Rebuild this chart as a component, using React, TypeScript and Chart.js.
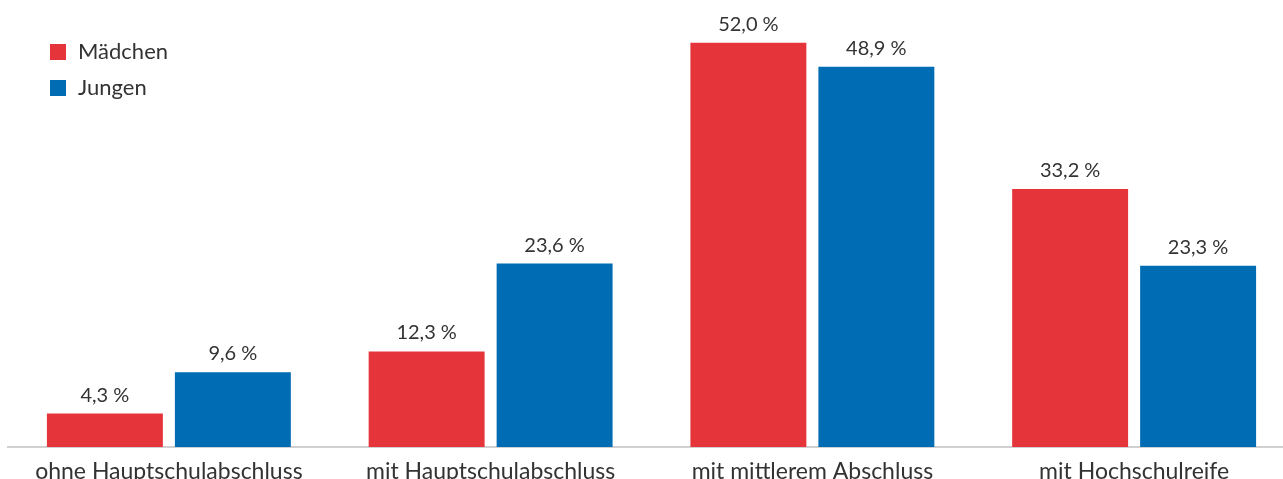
import React, { useEffect, useRef } from "react";
import { Chart, registerables } from "chart.js";

Chart.register(...registerables);

const categories = [
  "ohne Hauptschulabschluss",
  "mit Hauptschulabschluss",
  "mit mittlerem Abschluss",
  "mit Hochschulreife",
];
const seriesNames = ["Mädchen", "Jungen"];
const maedchen = [4.3, 12.3, 52.0, 33.2];
const jungen = [9.6, 23.6, 48.9, 23.3];
const seriesColors = ["#E6353A", "#006CB4"];

const FONT = "Lato";
const TEXT_COLOR = "#333333";

const valueLabels = {
  id: "valueLabels",
  afterDatasetsDraw(chart: any) {
    const ctx = chart.ctx;
    ctx.save();
    ctx.font = `20px ${FONT}`;
    ctx.fillStyle = TEXT_COLOR;
    ctx.textAlign = "center";
    ctx.textBaseline = "alphabetic";
    chart.data.datasets.forEach((ds: any, i: number) => {
      const meta = chart.getDatasetMeta(i);
      meta.data.forEach((el: any, j: number) => {
        const v = ds.data[j] as number;
        const txt = v.toFixed(1).replace(".", ",") + " %";
        ctx.fillText(txt, el.x, el.y - 12);
      });
    });
    ctx.restore();
  },
};

const sideLegend = {
  id: "sideLegend",
  afterDraw(chart: any) {
    const ctx = chart.ctx;
    ctx.save();
    ctx.font = `22px ${FONT}`;
    ctx.textBaseline = "middle";
    ctx.textAlign = "left";
    chart.data.datasets.forEach((ds: any, i: number) => {
      const y = 44 + i * 36;
      ctx.fillStyle = ds.backgroundColor;
      ctx.fillRect(50, y, 16, 16);
      ctx.fillStyle = TEXT_COLOR;
      ctx.fillText(ds.label, 78, y + 8);
    });
    ctx.restore();
  },
};

export default function App() {
  const ref = useRef<HTMLCanvasElement>(null);
  useEffect(() => {
    if (!ref.current) return;
    const chart = new Chart(ref.current, {
      type: "bar",
      data: {
        labels: categories,
        datasets: [
          { label: seriesNames[0], data: maedchen, backgroundColor: seriesColors[0] },
          { label: seriesNames[1], data: jungen, backgroundColor: seriesColors[1] },
        ],
      },
      options: {
        responsive: false,
        animation: false,
        devicePixelRatio: 1,
        layout: { padding: { left: 8, right: 5, top: 0, bottom: 0 } },
        datasets: {
          bar: { categoryPercentage: 0.7955, barPercentage: 0.906 },
        },
        plugins: {
          legend: { display: false },
          tooltip: { enabled: false },
        },
        scales: {
          x: {
            grid: { display: false, drawTicks: false },
            border: { display: true, color: "#d0d0d0", width: 2 },
            ticks: {
              color: TEXT_COLOR,
              font: { family: FONT, size: 23 },
              padding: 11,
              maxRotation: 0,
              autoSkip: false,
            },
            afterFit(scale: any) {
              scale.height = 43;
            },
          },
          y: {
            display: false,
            min: 0,
            max: 57.5,
          },
        },
      },
      plugins: [valueLabels, sideLegend],
    });
    return () => chart.destroy();
  }, []);
  return (
    <div
      style={{
        position: "absolute",
        left: 0,
        top: 0,
        width: 1283,
        height: 479,
        overflow: "hidden",
        background: "#ffffff",
      }}
    >
      <canvas ref={ref} width={1300} height={490} style={{ display: "block" }} />
    </div>
  );
}
